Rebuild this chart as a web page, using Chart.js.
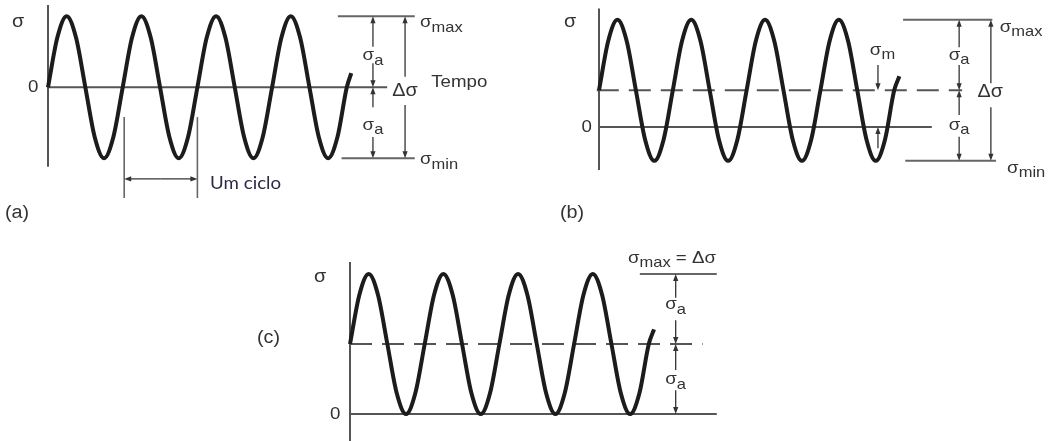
<!DOCTYPE html>
<html>
<head>
<meta charset="utf-8">
<title>Tensões cíclicas</title>
<script src="https://cdn.jsdelivr.net/npm/chart.js@4.4.0/dist/chart.umd.min.js"></script>
<style>
  body { margin: 0; background: #fff; }
  #wrap { position: relative; width: 1050px; height: 441px; overflow: hidden; }
  #wrap canvas { position: absolute; left: 0; top: 0; }
</style>
</head>
<body>
<div id="wrap">
  <canvas id="panelA" width="1050" height="441"></canvas>
  <canvas id="panelB" width="1050" height="441"></canvas>
  <canvas id="panelC" width="1050" height="441"></canvas>
</div>
<script>
// time in cycles (read every 1/8 cycle), stress in units of sigma_a
const timeA = [0, 0.125, 0.25, 0.375, 0.5, 0.625, 0.75, 0.875, 1, 1.125, 1.25, 1.375, 1.5, 1.625, 1.75, 1.875,
  2, 2.125, 2.25, 2.375, 2.5, 2.625, 2.75, 2.875, 3, 3.125, 3.25, 3.375, 3.5, 3.625, 3.75, 3.875, 4, 4.06];
const stressA = [0, 0.7, 1, 0.7, 0, -0.7, -1, -0.7, 0, 0.7, 1, 0.7, 0, -0.7, -1, -0.7,
  0, 0.7, 1, 0.7, 0, -0.7, -1, -0.7, 0, 0.7, 1, 0.7, 0, -0.7, -1, -0.7, 0, 0.2];

const timeB = [0, 0.125, 0.25, 0.375, 0.5, 0.625, 0.75, 0.875, 1, 1.125, 1.25, 1.375, 1.5, 1.625, 1.75, 1.875,
  2, 2.125, 2.25, 2.375, 2.5, 2.625, 2.75, 2.875, 3, 3.125, 3.25, 3.375, 3.5, 3.625, 3.75, 3.875, 4, 4.07];
const stressB = [0.52, 1.22, 1.52, 1.22, 0.52, -0.18, -0.48, -0.18, 0.52, 1.22, 1.52, 1.22, 0.52, -0.18, -0.48, -0.18,
  0.52, 1.22, 1.52, 1.22, 0.52, -0.18, -0.48, -0.18, 0.52, 1.22, 1.52, 1.22, 0.52, -0.18, -0.48, -0.18, 0.52, 0.72];

const timeC = [0, 0.125, 0.25, 0.375, 0.5, 0.625, 0.75, 0.875, 1, 1.125, 1.25, 1.375, 1.5, 1.625, 1.75, 1.875,
  2, 2.125, 2.25, 2.375, 2.5, 2.625, 2.75, 2.875, 3, 3.125, 3.25, 3.375, 3.5, 3.625, 3.75, 3.875, 4, 4.07];
const stressC = [1, 1.7, 2, 1.7, 1, 0.3, 0, 0.3, 1, 1.7, 2, 1.7, 1, 0.3, 0, 0.3,
  1, 1.7, 2, 1.7, 1, 0.3, 0, 0.3, 1, 1.7, 2, 1.7, 1, 0.3, 0, 0.3, 1, 1.21];

// levels: sigma_max, sigma_m, sigma_min
const levelsA = [1, 0, -1];
const levelsB = [1.52, 0.52, -0.48];
const levelsC = [2, 1, 0];

const zeroTick = '0';
const panelLabels = ['(a)', '(b)', '(c)'];

const INK = '#333';
const GREY = '#555';
const FONT = "'Liberation Sans', Arial, sans-serif";
const STRETCH = 1.1; // the scanned lettering is a little wide

// axis frame: pixel origin of t=0 / sigma=0, pixels per cycle and per sigma_a
function frame(x0, period, y0, amp) {
  return {
    x: { type: 'linear', display: false, min: -x0 / period, max: (1050 - x0) / period },
    y: { type: 'linear', display: false, min: -(441 - y0) / amp, max: y0 / amp }
  };
}

function drawText(ctx, x, y, parts, align, size, font, color) {
  const subSize = Math.round(size * 0.9);
  let w = 0;
  parts.forEach(p => {
    ctx.font = (p.sub ? subSize : size) + 'px ' + (font || FONT);
    p.w = ctx.measureText(p.t).width;
    w += p.w;
  });
  w *= STRETCH;
  const left = align === 'center' ? x - w / 2 : align === 'right' ? x - w : x;
  ctx.save();
  ctx.translate(left, y);
  ctx.scale(STRETCH, 1);
  ctx.fillStyle = color || INK;
  ctx.textBaseline = 'middle';
  ctx.textAlign = 'left';
  let cx = 0;
  parts.forEach(p => {
    ctx.font = (p.sub ? subSize : size) + 'px ' + (font || FONT);
    ctx.fillText(p.t, cx, p.sub ? size * 0.3 : 0);
    cx += p.w;
  });
  ctx.restore();
}

const annotate = {
  id: 'annotate',
  beforeDatasetsDraw(chart, args, opts) {
    const ctx = chart.ctx;
    const X = v => chart.scales.x.getPixelForValue(v);
    const Y = v => chart.scales.y.getPixelForValue(v);
    ctx.save();
    (opts.lines || []).forEach(l => {
      ctx.beginPath();
      ctx.strokeStyle = l.color || GREY;
      ctx.lineWidth = l.width || 2;
      ctx.setLineDash(l.dash || []);
      ctx.moveTo(X(l.x1), Y(l.y1));
      ctx.lineTo(X(l.x2), Y(l.y2));
      ctx.stroke();
    });
    ctx.restore();
  },
  afterDatasetsDraw(chart, args, opts) {
    const ctx = chart.ctx;
    const X = v => chart.scales.x.getPixelForValue(v);
    const Y = v => chart.scales.y.getPixelForValue(v);
    ctx.save();
    ctx.setLineDash([]);
    (opts.arrows || []).forEach(a => {
      const x1 = X(a.x1), y1 = Y(a.y1), x2 = X(a.x2), y2 = Y(a.y2);
      const ang = Math.atan2(y2 - y1, x2 - x1);
      const len = 7, half = 2.6;
      ctx.strokeStyle = INK;
      ctx.fillStyle = INK;
      ctx.lineWidth = 1.3;
      ctx.beginPath();
      ctx.moveTo(x1, y1);
      ctx.lineTo(x2 - Math.cos(ang) * len * 0.6, y2 - Math.sin(ang) * len * 0.6);
      ctx.stroke();
      ctx.beginPath();
      ctx.moveTo(x2, y2);
      ctx.lineTo(x2 - Math.cos(ang) * len - Math.sin(ang) * half, y2 - Math.sin(ang) * len + Math.cos(ang) * half);
      ctx.lineTo(x2 - Math.cos(ang) * len + Math.sin(ang) * half, y2 - Math.sin(ang) * len - Math.cos(ang) * half);
      ctx.closePath();
      ctx.fill();
    });
    (opts.texts || []).forEach(t => {
      drawText(ctx, X(t.x), Y(t.y), t.parts, t.align, t.size || 17, t.font, t.color);
    });
    ctx.restore();
  }
};

function sig(sub, extra) {
  const parts = [{ t: 'σ' }, { t: sub, sub: true }];
  if (extra) parts.push({ t: extra });
  return parts;
}

function wave(times, stress) {
  return {
    data: times.map((t, i) => ({ x: t, y: stress[i] })),
    showLine: true,
    borderColor: '#1c1c1c',
    borderWidth: 4,
    pointRadius: 0,
    cubicInterpolationMode: 'monotone',
    clip: false
  };
}

function panel(id, times, stress, scales, ann) {
  new Chart(document.getElementById(id), {
    type: 'scatter',
    data: { datasets: [wave(times, stress)] },
    options: {
      responsive: false,
      animation: false,
      events: [],
      layout: { padding: 0 },
      scales: scales,
      plugins: { legend: { display: false }, tooltip: { enabled: false }, annotate: ann }
    },
    plugins: [annotate]
  });
}

// (a) fully reversed
const [maxA, meanA, minA] = levelsA;
panel('panelA', timeA, stressA, frame(48, 74.7, 87.3, 71), {
  lines: [
    { x1: 0, y1: 1.16, x2: 0, y2: -1.12 },
    { x1: 0, y1: meanA, x2: 4.54, y2: meanA },
    { x1: 3.88, y1: maxA, x2: 4.91, y2: maxA, color: '#666' },
    { x1: 3.93, y1: minA, x2: 4.91, y2: minA, color: '#666' },
    { x1: 1.02, y1: -0.42, x2: 1.02, y2: -1.56, color: '#666', width: 1.6 },
    { x1: 2.0, y1: -0.42, x2: 2.0, y2: -1.56, color: '#666', width: 1.6 }
  ],
  arrows: [
    { x1: 4.35, y1: 0.57, x2: 4.35, y2: maxA },
    { x1: 4.35, y1: 0.34, x2: 4.35, y2: meanA },
    { x1: 4.35, y1: -0.28, x2: 4.35, y2: meanA },
    { x1: 4.35, y1: -0.70, x2: 4.35, y2: minA },
    { x1: 4.78, y1: 0.15, x2: 4.78, y2: maxA },
    { x1: 4.78, y1: -0.25, x2: 4.78, y2: minA },
    { x1: 1.51, y1: -1.29, x2: 1.02, y2: -1.29 },
    { x1: 1.51, y1: -1.29, x2: 2.0, y2: -1.29 }
  ],
  texts: [
    { x: -0.40, y: 0.92, parts: [{ t: 'σ' }], align: 'center', size: 18 },
    { x: -0.13, y: meanA, parts: [{ t: zeroTick }], align: 'right', size: 17 },
    { x: -0.576, y: -1.77, parts: [{ t: panelLabels[0] }], align: 'left', size: 18 },
    { x: 4.98, y: 0.91, parts: sig('max'), align: 'left' },
    { x: 4.98, y: -1.02, parts: sig('min'), align: 'left' },
    { x: 4.35, y: 0.45, parts: sig('a'), align: 'center' },
    { x: 4.35, y: -0.53, parts: sig('a'), align: 'center' },
    { x: 4.78, y: -0.05, parts: [{ t: 'Δσ' }], align: 'center', size: 18 },
    { x: 5.13, y: 0.075, parts: [{ t: 'Tempo' }], align: 'left', size: 17 },
    { x: 2.17, y: -1.36, parts: [{ t: 'Um ciclo' }], align: 'left', size: 17, font: "Lato, 'Open Sans', sans-serif", color: '#2e2946' }
  ]
});

// (b) mean stress sigma_m
const [maxB, meanB, minB] = levelsB;
panel('panelB', timeB, stressB, frame(599, 73.8, 127, 70.5), {
  lines: [
    { x1: 0, y1: 1.68, x2: 0, y2: -0.61 },
    { x1: 0, y1: 0, x2: 4.51, y2: 0 },
    { x1: -0.03, y1: meanB, x2: 4.92, y2: meanB, dash: [22, 10] },
    { x1: 4.12, y1: maxB, x2: 5.33, y2: maxB, color: '#666' },
    { x1: 4.15, y1: minB, x2: 5.38, y2: minB, color: '#666' }
  ],
  arrows: [
    { x1: 4.88, y1: 1.13, x2: 4.88, y2: maxB },
    { x1: 4.88, y1: 0.88, x2: 4.88, y2: meanB },
    { x1: 4.88, y1: 0.17, x2: 4.88, y2: meanB },
    { x1: 4.88, y1: -0.14, x2: 4.88, y2: minB },
    { x1: 5.31, y1: 0.62, x2: 5.31, y2: maxB },
    { x1: 5.31, y1: 0.28, x2: 5.31, y2: minB },
    { x1: 3.78, y1: 0.88, x2: 3.78, y2: meanB },
    { x1: 3.78, y1: -0.30, x2: 3.78, y2: 0 }
  ],
  texts: [
    { x: -0.39, y: 1.49, parts: [{ t: 'σ' }], align: 'center', size: 18 },
    { x: -0.095, y: 0, parts: [{ t: zeroTick }], align: 'right', size: 17 },
    { x: -0.53, y: -1.22, parts: [{ t: panelLabels[1] }], align: 'left', size: 18 },
    { x: 5.43, y: 1.42, parts: sig('max'), align: 'left' },
    { x: 5.53, y: -0.58, parts: sig('min'), align: 'left' },
    { x: 4.88, y: 1.02, parts: sig('a'), align: 'center' },
    { x: 4.88, y: 0.03, parts: sig('a'), align: 'center' },
    { x: 5.30, y: 0.49, parts: [{ t: 'Δσ' }], align: 'center', size: 18 },
    { x: 3.67, y: 1.09, parts: sig('m'), align: 'left' }
  ]
});

// (c) released tension, sigma_min = 0
const [maxC, meanC, minC] = levelsC;
panel('panelC', timeC, stressC, frame(350, 74.7, 414, 70), {
  lines: [
    { x1: 0, y1: 2.17, x2: 0, y2: -0.4 },
    { x1: 0, y1: minC, x2: 4.91, y2: minC },
    { x1: 0, y1: meanC, x2: 4.72, y2: meanC, dash: [22, 10] },
    { x1: 3.88, y1: maxC, x2: 4.91, y2: maxC, color: '#666' }
  ],
  arrows: [
    { x1: 4.36, y1: 1.66, x2: 4.36, y2: maxC },
    { x1: 4.36, y1: 1.34, x2: 4.36, y2: meanC },
    { x1: 4.36, y1: 0.63, x2: 4.36, y2: meanC },
    { x1: 4.36, y1: 0.34, x2: 4.36, y2: minC }
  ],
  texts: [
    { x: -0.40, y: 1.96, parts: [{ t: 'σ' }], align: 'center', size: 18 },
    { x: -0.13, y: minC, parts: [{ t: zeroTick }], align: 'right', size: 17 },
    { x: -1.245, y: 1.09, parts: [{ t: panelLabels[2] }], align: 'left', size: 18 },
    { x: 4.31, y: 2.23, parts: sig('max', ' = Δσ'), align: 'center' },
    { x: 4.36, y: 1.56, parts: sig('a'), align: 'center' },
    { x: 4.36, y: 0.49, parts: sig('a'), align: 'center' }
  ]
});
</script>
</body>
</html>
